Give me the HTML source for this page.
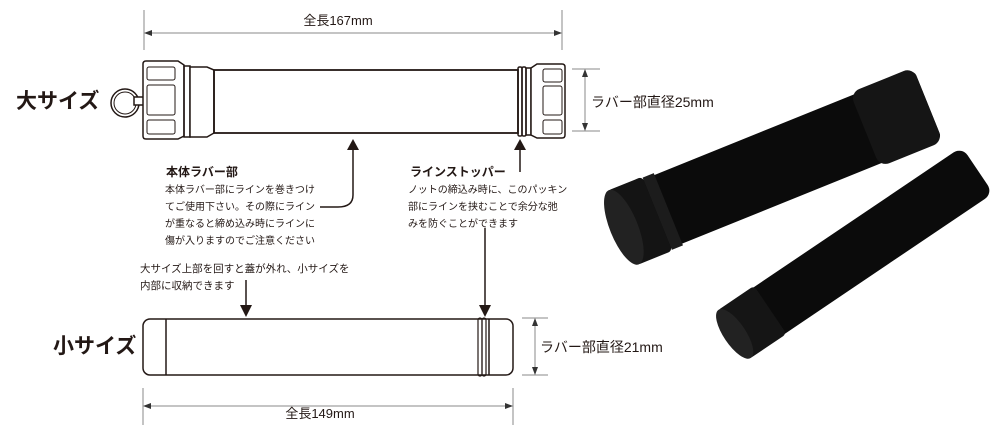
<!DOCTYPE html>
<html><head><meta charset="utf-8"><style>
body{margin:0;background:#fff;width:1000px;height:433px;overflow:hidden}
svg text{font-family:"Liberation Sans","Noto Sans CJK JP",sans-serif;fill:#231815}
</style></head><body>
<svg width="1000" height="433" viewBox="0 0 1000 433" xmlns="http://www.w3.org/2000/svg">
<g stroke="#231815" fill="none">
<g stroke="#888" stroke-width="1"><line x1="144" y1="10" x2="144" y2="50"/><line x1="562" y1="10" x2="562" y2="50"/><line x1="146" y1="33" x2="560" y2="33"/>
<line x1="572" y1="69" x2="600" y2="69"/><line x1="572" y1="131" x2="600" y2="131"/><line x1="585" y1="71" x2="585" y2="129"/>
<line x1="143" y1="388" x2="143" y2="425"/><line x1="513" y1="388" x2="513" y2="425"/><line x1="145" y1="406" x2="511" y2="406"/>
<line x1="522" y1="318" x2="548" y2="318"/><line x1="522" y1="375" x2="548" y2="375"/><line x1="535" y1="320" x2="535" y2="373"/></g>
<g stroke-width="1.5">
<circle cx="125" cy="103" r="14"/><circle cx="125" cy="103" r="11" stroke-width="1"/>
<rect x="134" y="97" width="10" height="8" fill="#fff"/>
<path d="M146 61 H178 L184 65 V136 L178 139 H146 Q143 139 143 136 V64 Q143 61 146 61Z" fill="#fff"/>
<rect x="147" y="67" width="28" height="13" rx="2" stroke-width="1"/><rect x="147" y="85" width="28" height="30" rx="2" stroke-width="1"/><rect x="147" y="120" width="28" height="14" rx="2" stroke-width="1"/>
<rect x="184" y="66" width="6" height="71"/>
<path d="M190 67 H207 L214 70 V133 L207 137 H190Z" fill="#fff"/>
<rect x="214" y="70" width="304" height="63" stroke-width="1.8"/>
<rect x="518" y="67" width="4" height="69" rx="1.5"/><rect x="522" y="67" width="4" height="69" rx="1.5"/><rect x="526" y="68" width="5" height="67"/>
<path d="M531 68 L537 64 H562 Q565 64 565 67 V135 Q565 138 562 138 H537 L531 135Z" fill="#fff"/>
<rect x="543" y="69" width="19" height="13" rx="2" stroke-width="1"/><rect x="543" y="86" width="19" height="29" rx="2" stroke-width="1"/><rect x="543" y="120" width="19" height="14" rx="2" stroke-width="1"/>
<rect x="143" y="319" width="370" height="56" rx="7"/>
<line x1="166" y1="319" x2="166" y2="375"/>
<rect x="478" y="318" width="4" height="58" rx="2" stroke-width="1.2"/><rect x="482" y="318" width="4" height="58" rx="2" stroke-width="1.2"/>
<line x1="489" y1="319" x2="489" y2="375"/>
</g>
<g stroke-width="1.5">
<path d="M353 148 V195 Q353 207 338 207 H320"/>
<line x1="520" y1="148" x2="520" y2="172"/>
<line x1="246" y1="280" x2="246" y2="306"/>
<line x1="485" y1="228" x2="485" y2="306"/>
</g>
</g>
<g fill="#231815">
<path d="M353 139 l-6 11 h12z"/><path d="M520 139 l-6 11 h12z"/>
<path d="M246 317 l-6 -12 h12z"/><path d="M485 317 l-6 -12 h12z"/>
<g fill="#333"><path d="M144 33 l8 -3 v6z"/><path d="M562 33 l-8 -3 v6z"/><path d="M585 69 l-3 8 h6z"/><path d="M585 131 l-3 -8 h6z"/>
<path d="M143 406 l8 -3 v6z"/><path d="M513 406 l-8 -3 v6z"/><path d="M535 318 l-3 8 h6z"/><path d="M535 375 l-3 -8 h6z"/></g>
</g>
<text x="338" y="25" font-size="13" text-anchor="middle">全長167mm</text>
<text x="320" y="418" font-size="13" text-anchor="middle">全長149mm</text>
<text x="591" y="107" font-size="14">ラバー部直径25mm</text>
<text x="540" y="352" font-size="14">ラバー部直径21mm</text>
<text x="16" y="108" font-size="21" font-weight="bold">大サイズ</text>
<text x="53" y="353" font-size="21" font-weight="bold">小サイズ</text>
<text x="166" y="176" font-size="12" font-weight="bold">本体ラバー部</text>
<g font-size="10"><text x="165" y="193">本体ラバー部にラインを巻きつけ</text><text x="165" y="210">てご使用下さい。その際にライン</text><text x="165" y="227">が重なると締め込み時にラインに</text><text x="165" y="244">傷が入りますのでご注意ください</text>
<text x="408" y="193">ノットの締込み時に、このパッキン</text><text x="408" y="210">部にラインを挟むことで余分な弛</text><text x="408" y="227">みを防ぐことができます</text></g>
<g font-size="10.5"><text x="140" y="272">大サイズ上部を回すと蓋が外れ、小サイズを</text><text x="140" y="289">内部に収納できます</text></g>
<text x="410" y="176" font-size="12" font-weight="bold">ラインストッパー</text>
<g transform="translate(622,228) rotate(-22)">
<rect x="0" y="-37" width="330" height="74" rx="6" fill="#0b0b0b"/>
<rect x="262" y="-40" width="68" height="80" rx="10" fill="#151515"/>
<rect x="38" y="-39" width="12" height="78" fill="#1c1c1c"/>
<rect x="0" y="-40" width="38" height="80" rx="4" fill="#141414"/>
<ellipse cx="2" cy="0" rx="14" ry="40" fill="#222"/>
</g>
<g transform="translate(733,335) rotate(-34)">
<rect x="0" y="-28" width="295" height="56" rx="10" fill="#0b0b0b"/>
<rect x="0" y="-29" width="45" height="58" rx="4" fill="#151515"/>
<ellipse cx="2" cy="0" rx="11" ry="29" fill="#222"/>
</g>
</svg>
</body></html>
